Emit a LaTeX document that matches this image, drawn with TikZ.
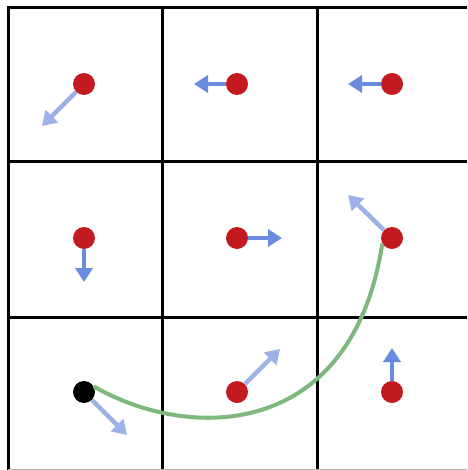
\documentclass[tikz,border=0pt]{standalone}
\usetikzlibrary{arrows.meta}
\definecolor{dotred}{HTML}{C21A1E}
\definecolor{darkarrow}{HTML}{6A8CE0}
\definecolor{lightarrow}{HTML}{9DB1E9}
\definecolor{pathgreen}{HTML}{7DB87D}
\begin{document}
\begin{tikzpicture}[x=1pt,y=-1pt,
  gridline/.style={line width=3pt,black},
  dot/.style={circle,fill=dotred,inner sep=0pt,minimum size=22pt},
  startdot/.style={circle,fill=black,inner sep=0pt,minimum size=22pt},
  vec/.style={line width=4.5pt,-{Triangle[length=14pt,width=17pt]}},
  darkvec/.style={vec,darkarrow},
  lightvec/.style={vec,lightarrow},
  route/.style={pathgreen,line width=4pt}]
\useasboundingbox (0,0) rectangle (467,470);
\fill[white] (0,0) rectangle (467,470);
% grid
\draw[gridline] (8,8) -- (8,470);
\draw[gridline] (162,8) -- (162,470);
\draw[gridline] (317,8) -- (317,470);
\draw[gridline] (6.5,8) -- (467,8);
\draw[gridline] (8,162) -- (467,162);
\draw[gridline] (8,317) -- (467,317);
\draw[gray!60,line width=0.8pt] (8,469.5) -- (467,469.5);
% vector tips
\coordinate (t11) at (42,126);
\coordinate (t12) at (194,84);
\coordinate (t13) at (348,84);
\coordinate (t21) at (84,282);
\coordinate (t22) at (282,238);
\coordinate (t23) at (348,195);
\coordinate (t31) at (127,435);
\coordinate (t32) at (280,349);
\coordinate (t33) at (392,348);
% dots
\node[dot] (d11) at (84,84) {};
\node[dot] (d12) at (237,84) {};
\node[dot] (d13) at (392,84) {};
\node[dot] (d21) at (84,238) {};
\node[dot] (d22) at (237,238) {};
\node[dot] (d23) at (392,238) {};
\node[startdot] (d31) at (84,392) {};
\node[dot] (d32) at (237,392) {};
\node[dot] (d33) at (392,392) {};
% vectors
\draw[lightvec] (d11) -- (t11);
\draw[darkvec] (d12) -- (t12);
\draw[darkvec] (d13) -- (t13);
\draw[darkvec] (d21) -- (t21);
\draw[darkvec] (d22) -- (t22);
\draw[lightvec] (d23) -- (t23);
\draw[lightvec] (d31) -- (t31);
\draw[lightvec] (d32) -- (t32);
\draw[darkvec] (d33) -- (t33);
% route
\draw[route] (d31.30) .. controls (190,442) and (352,440) .. (d23.210);
\end{tikzpicture}
\end{document}
